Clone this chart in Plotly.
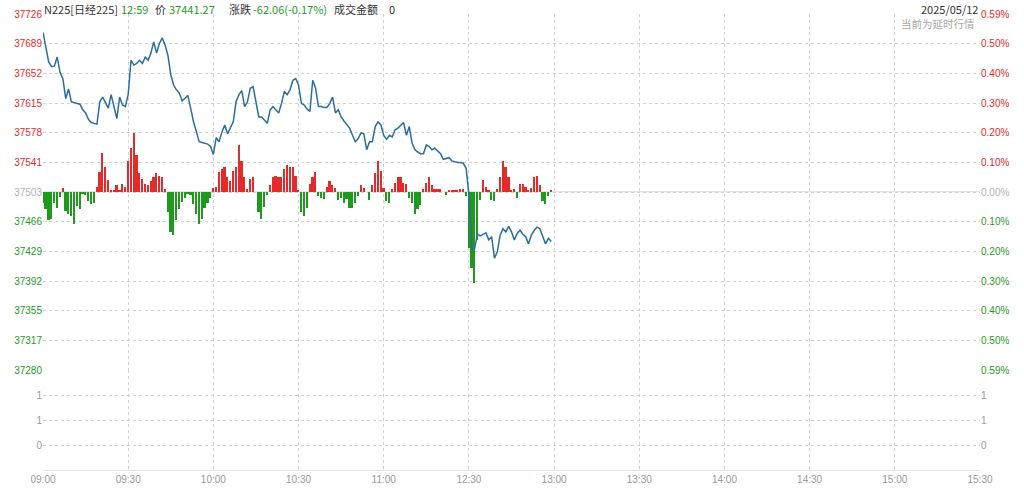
import plotly.graph_objects as go

# ---------------- data ----------------
prev_close = 37503.33
last_price = "37441.27"
change_text = "-62.06(-0.17%)"
last_time = "12:59"
trade_date = "2025/05/12"

# one value per trading minute from 09:00 (lunch 11:30-12:30 skipped)
prices = [
    37703, 37685, 37666, 37660, 37661, 37672, 37653, 37645, 37620, 37632,
    37616, 37615, 37614, 37613, 37606, 37602, 37594, 37590, 37589, 37588,
    37616, 37622, 37615, 37608, 37625, 37608, 37595, 37622, 37612, 37610,
    37625, 37668, 37662, 37664, 37668, 37664, 37672, 37668, 37677, 37691,
    37677, 37689, 37696, 37687, 37674, 37650, 37637, 37631, 37627, 37617,
    37620, 37624, 37608, 37591, 37579, 37566, 37565, 37564, 37563, 37560,
    37550, 37571, 37566, 37578, 37587, 37576, 37583, 37591, 37616, 37625,
    37630, 37610, 37616, 37633, 37635, 37616, 37597, 37597, 37593, 37589,
    37606, 37610, 37606, 37602, 37614, 37629, 37625, 37631, 37643, 37645,
    37637, 37614, 37612, 37607, 37604, 37643, 37633, 37610, 37610, 37609,
    37609, 37614, 37622, 37602, 37606, 37597, 37592, 37587, 37583, 37574,
    37566, 37570, 37577, 37576, 37556, 37566, 37566, 37585, 37591, 37587,
    37574, 37569, 37574, 37572, 37581, 37583, 37586, 37590, 37574, 37585,
    37564, 37556, 37553, 37551, 37551, 37562, 37560, 37556, 37558, 37555,
    37551, 37544, 37545, 37546, 37542, 37541, 37540, 37540, 37539, 37533,
    37500, 37434, 37432, 37450, 37448, 37450, 37452, 37443, 37447, 37420,
    37428, 37449, 37457, 37453, 37460, 37453, 37443, 37451, 37455, 37450,
    37447, 37438, 37449, 37455, 37459, 37457, 37447, 37438, 37445, 37441,
]

# red/green strength bars drawn around the previous close (index points)
signal = [
    -14, -22, -36, -34, -14, -20, -6, 5, -24, -28,
    -30, -41, -18, -21, -3, -4, -11, -15, -14, 6,
    25, 48, 31, 15, 1, 1, 8, 1, 10, 6,
    39, 55, 73, 46, 23, 16, 10, 9, 14, 18,
    24, 20, 19, 3, -26, -50, -54, -36, -21, -13,
    -8, -3, -4, -15, -28, -40, -34, -20, -14, -8,
    5, 6, 25, 28, 31, 19, 14, 26, 31, 59,
    39, 18, 3, 16, 19, 0, -26, -34, -19, -4,
    9, 19, 20, 19, 18, 28, 33, 31, 31, 20,
    1, -26, -31, -20, 10, 19, 25, -5, -8, -9,
    6, 13, 9, 5, -10, -8, -14, -9, -20, -20,
    -14, -5, 8, 5, 0, -10, 8, 24, 39, 26,
    5, -11, -14, 3, 11, 19, 18, 11, 10, -8,
    -14, -28, -21, -16, 4, 11, 18, 8, 3, 3,
    3, 0, -4, 1, 1, 1, 1, 3, 4, -5,
    -71, -95, -114, -61, -10, 15, 6, 1, -10, -11,
    4, 19, 38, 31, 19, 1, 3, -8, 10, 10,
    6, 1, 5, 19, 20, 8, -11, -15, -5, 1,
]

time_ticks = [0, 30, 60, 90, 120, 150, 180, 210, 240, 270, 300, 330]
time_labels = ["09:00", "09:30", "10:00", "10:30", "11:00", "12:30",
               "13:00", "13:30", "14:00", "14:30", "15:00", "15:30"]

price_labels = ["37726", "37689", "37652", "37615", "37578", "37541", "37503",
                "37466", "37429", "37392", "37355", "37317", "37280"]
pct_labels = ["0.59%", "0.50%", "0.40%", "0.30%", "0.20%", "0.10%", "0.00%",
              "0.10%", "0.20%", "0.30%", "0.40%", "0.50%", "0.59%"]
price_top, price_bottom = 37726, 37280
vol_labels = ["0", "1", "1"]

# ---------------- styling ----------------
RED = "#e32b2b"
GREEN = "#1f9a1f"
GRAY = "#b3b3b3"
LINE = "#2b6e9d"
GRID = "#d2d2d2"

W, H = 1024, 488
L, R, T, B = 43, 44, 14, 18
plot_w, plot_h = W - L - R, H - T - B
split = (470 - 370) / plot_h  # volume panel height fraction

step = (price_top - price_bottom) / (len(price_labels) - 1)
price_vals = [price_top - i * step for i in range(len(price_labels))]


def colored(txt, v):
    if abs(v - prev_close) < step / 4:
        c = GRAY
    elif v > prev_close:
        c = RED
    else:
        c = GREEN
    return f'<span style="color:{c}">{txt}</span>'


left_text = [colored(t, v) for t, v in zip(price_labels, price_vals)]
right_text = [colored(t, v) for t, v in zip(pct_labels, price_vals)]

idx = list(range(len(prices)))
bar_colors = [RED if s > 0 else GREEN for s in signal]

fig = go.Figure()
fig.add_trace(go.Bar(x=idx, y=signal, base=prev_close, marker_color=bar_colors,
                     marker_line_width=0, width=0.6, xaxis="x", yaxis="y",
                     hoverinfo="skip"))
fig.add_trace(go.Scatter(x=idx, y=prices, mode="lines",
                         line=dict(color=LINE, width=1.5), xaxis="x", yaxis="y",
                         hoverinfo="skip"))
# empty volume panel + right-side axes
fig.add_trace(go.Scatter(x=[0], y=[0], mode="markers", opacity=0,
                         xaxis="x", yaxis="y2", hoverinfo="skip"))
fig.add_trace(go.Scatter(x=[0], y=[prev_close], mode="markers", opacity=0,
                         xaxis="x", yaxis="y3", hoverinfo="skip"))
fig.add_trace(go.Scatter(x=[0], y=[0], mode="markers", opacity=0,
                         xaxis="x", yaxis="y4", hoverinfo="skip"))

fig.add_shape(type="line", xref="x", yref="y", x0=0, x1=330,
              y0=prev_close, y1=prev_close, line=dict(color="#dcdcdc", width=1),
              layer="below")

tickfont = dict(family="Liberation Sans, Arial, sans-serif", size=10, color="#999999")

fig.update_layout(
    width=W, height=H, autosize=False,
    margin=dict(l=L, r=R, t=T, b=B, pad=0, autoexpand=False),
    paper_bgcolor="white", plot_bgcolor="white",
    showlegend=False, bargap=0,
    xaxis=dict(range=[0, 330], tickvals=time_ticks, ticktext=time_labels,
               showgrid=True, gridcolor=GRID, griddash="dot", gridwidth=1,
               zeroline=False, showline=True, linecolor="#e6e6e6", linewidth=1,
               ticks="", tickfont=tickfont, anchor="y2", fixedrange=True,
               automargin=False),
    yaxis=dict(domain=[split, 1], range=[price_bottom, price_top],
               tickvals=price_vals, ticktext=left_text,
               showgrid=True, gridcolor=GRID, griddash="dot", gridwidth=1,
               zeroline=False, ticks="", tickfont=tickfont, anchor="x",
               automargin=False),
    yaxis2=dict(domain=[0, split], range=[-1, 3], tickvals=[0, 1, 2],
                ticktext=vol_labels, showgrid=True, gridcolor=GRID,
                griddash="dot", gridwidth=1, zeroline=False, ticks="",
                tickfont=tickfont, anchor="x", automargin=False),
    yaxis3=dict(overlaying="y", side="right", range=[price_bottom, price_top],
                tickvals=price_vals, ticktext=right_text, showgrid=False,
                zeroline=False, ticks="", tickfont=tickfont, anchor="x",
                automargin=False),
    yaxis4=dict(overlaying="y2", side="right", range=[-1, 3], tickvals=[0, 1, 2],
                ticktext=vol_labels, showgrid=False, zeroline=False, ticks="",
                tickfont=tickfont, anchor="x", automargin=False),
)


def px_x(p):
    return (p - L) / plot_w


def px_y(p):
    return (H - B - p) / plot_h


HDR = "Noto Sans CJK SC, sans-serif"
header = [
    ("N225[日经225]", 43, "#333333"),
    (last_time, 120, GREEN),
    ("价", 154, "#333333"),
    (last_price, 168, GREEN),
    ("涨跌", 228, "#333333"),
    (change_text, 252, GREEN),
    ("成交金额", 333, "#333333"),
    ("0", 388, "#333333"),
]
for txt, xp, col in header:
    fig.add_annotation(text=txt, xref="paper", yref="paper", x=px_x(xp), y=px_y(0),
                       xanchor="left", yanchor="top", showarrow=False, borderpad=0,
                       font=dict(family=HDR, size=11, color=col))

fig.add_annotation(text=trade_date, xref="paper", yref="paper", x=px_x(979), y=px_y(0),
                   xanchor="right", yanchor="top", showarrow=False, borderpad=0,
                   font=dict(family=HDR, size=11, color="#333333"))
fig.add_annotation(text="当前为延时行情", xref="paper", yref="paper", x=px_x(976),
                   y=px_y(15.5), xanchor="right", yanchor="top", showarrow=False,
                   borderpad=0, font=dict(family=HDR, size=10.5, color="#a8a8a8"))

fig.write_html(
    "out.html",
    config={"responsive": False, "displayModeBar": False},
    post_script="document.body.style.margin='0';document.body.style.padding='0';"
                "document.body.style.overflow='hidden';",
)
